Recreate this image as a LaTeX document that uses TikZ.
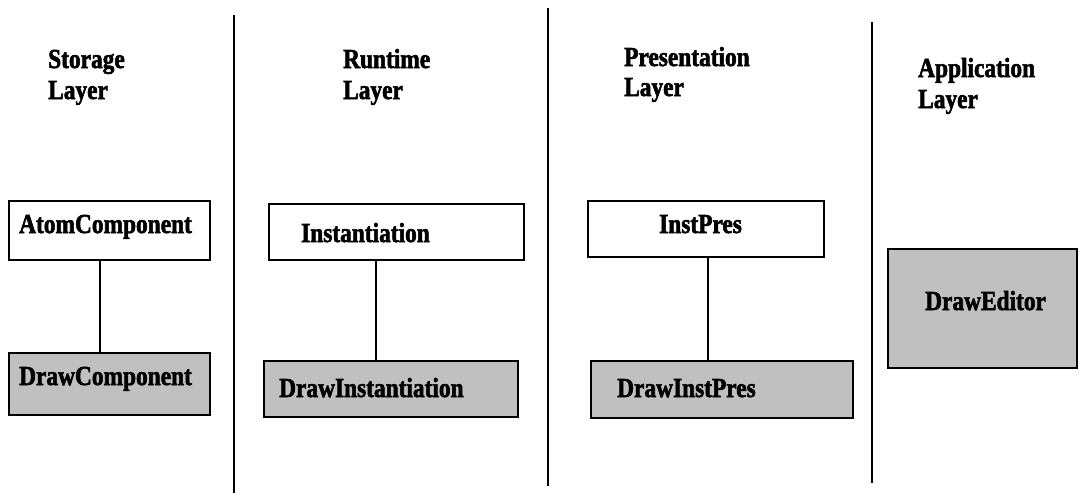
\documentclass[tikz,border=0pt]{standalone}
\usepackage{fontspec}
\setmainfont[FakeStretch=0.85,BoldFeatures={FakeBold=2}]{Liberation Serif}
\begin{document}
\begin{tikzpicture}[x=1pt,y=-1pt,
  lbl/.style={anchor=base west,inner sep=0pt,font=\bfseries\fontsize{27.5}{30}\selectfont},
  classbox/.style={draw=black,line width=2.6pt,inner sep=0pt},
  plainbox/.style={classbox,fill=white},
  greybox/.style={classbox,fill=boxgrey},
  link/.style={draw=black,line width=2.4pt},
  divider/.style={draw=black,line width=1.4pt}]
\definecolor{boxgrey}{HTML}{C0C0C0}
\useasboundingbox (0,0) rectangle (1080,493);
\fill[white] (0,0) rectangle (1080,493);

% layer dividers
\coordinate (d1t) at (234,15);  \coordinate (d1b) at (234,493);
\coordinate (d2t) at (548,8);   \coordinate (d2b) at (548,486);
\coordinate (d3t) at (872,22);  \coordinate (d3b) at (872,483);
\draw[divider] (d1t) -- (d1b);
\draw[divider] (d2t) -- (d2b);
\draw[divider] (d3t) -- (d3b);

% layer headings
\node[lbl] (h1a) at (48,68) {Storage};
\node[lbl] (h1b) at (48,99) {Layer};
\node[lbl] (h2a) at (343,68) {Runtime};
\node[lbl] (h2b) at (343,99) {Layer};
\node[lbl] (h3a) at (624,66) {Presentation};
\node[lbl] (h3b) at (624,96) {Layer};
\node[lbl] (h4a) at (918,77) {Application};
\node[lbl] (h4b) at (918,108) {Layer};

% class boxes
\node[plainbox,minimum width=201pt,minimum height=59pt] (atom) at (109.5,230.5) {};
\node[greybox,minimum width=201pt,minimum height=62pt] (drawcomp) at (109.5,384) {};
\node[plainbox,minimum width=255pt,minimum height=56pt] (inst) at (396.5,232) {};
\node[greybox,minimum width=254pt,minimum height=56pt] (drawinst) at (391,389) {};
\node[plainbox,minimum width=236pt,minimum height=56pt] (instpres) at (706,229) {};
\node[greybox,minimum width=262pt,minimum height=57pt] (drawinstpres) at (722,389.5) {};
\node[greybox,minimum width=189pt,minimum height=119pt] (drawed) at (982.5,308.5) {};

% class names
\node[lbl] (t1) at (19,233) {AtomComponent};
\node[lbl] (t2) at (19,385) {DrawComponent};
\node[lbl] (t3) at (301,242) {Instantiation};
\node[lbl] (t4) at (279,397) {DrawInstantiation};
\node[lbl] (t5) at (659,233) {InstPres};
\node[lbl] (t6) at (617,397) {DrawInstPres};
\node[lbl] (t7) at (925,310) {DrawEditor};

% connectors
\coordinate (c1) at (100,0);
\coordinate (c2) at (376,0);
\coordinate (c3) at (708,0);
\draw[link] (atom.south -| c1) -- (drawcomp.north -| c1);
\draw[link] (inst.south -| c2) -- (drawinst.north -| c2);
\draw[link] (instpres.south -| c3) -- (drawinstpres.north -| c3);
\end{tikzpicture}
\end{document}
